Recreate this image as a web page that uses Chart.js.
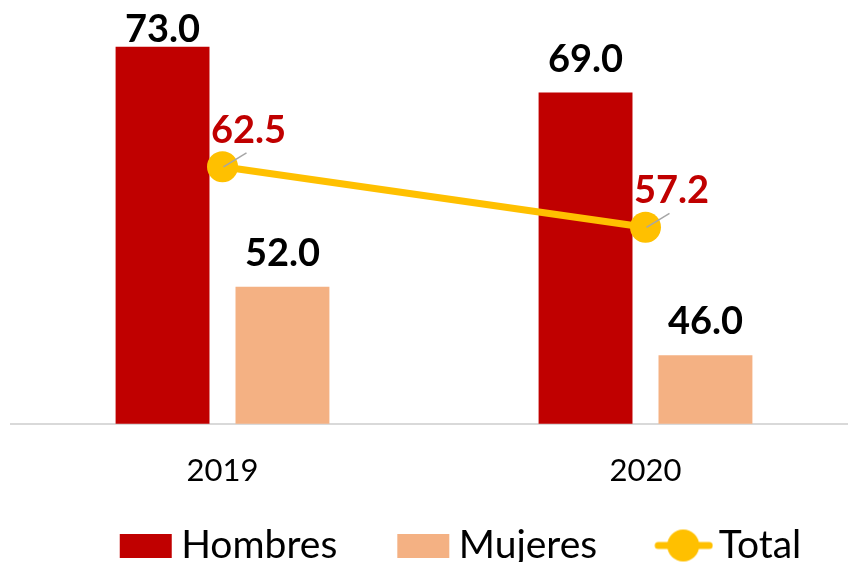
<!DOCTYPE html>
<html>
<head>
<meta charset="utf-8">
<script src="https://cdn.jsdelivr.net/npm/chart.js@4.4.1/dist/chart.umd.min.js"></script>
<style>
  html, body { margin: 0; padding: 0; background: #fff; overflow: hidden; }
  canvas { display: block; }
</style>
</head>
<body>
<canvas id="genderChart" width="858" height="562"></canvas>
<script>
var years = ["2019", "2020"];
var hombres = [73.0, 69.0];
var mujeres = [52.0, 46.0];
var total = [62.5, 57.2];

var FONT = "Lato, 'Liberation Sans', sans-serif";
var KEY_W = 95; // legend box slot, the blank left part is the gap between items

function keyBox(color) {
  var c = document.createElement("canvas");
  c.width = KEY_W + 28;
  c.height = 24;
  var g = c.getContext("2d");
  g.fillStyle = color;
  g.fillRect(KEY_W + 24 - 52, 0, 52, 24);
  return c;
}

function keyLine(color) {
  var c = document.createElement("canvas");
  c.width = KEY_W + 28;
  c.height = 34;
  var g = c.getContext("2d");
  var right = KEY_W + 28;
  g.strokeStyle = color;
  g.lineWidth = 7;
  g.lineCap = "round";
  g.beginPath();
  g.moveTo(right - 55, 17);
  g.lineTo(right - 4, 17);
  g.stroke();
  g.fillStyle = color;
  g.beginPath();
  g.arc(right - 30, 17, 16, 0, Math.PI * 2);
  g.fill();
  return c;
}

var keys = [keyBox("#C00000"), keyBox("#F4B183"), keyLine("#FFC000")];

var valueLabels = {
  id: "valueLabels",
  afterDatasetsDraw: function(chart) {
    var ctx = chart.ctx;
    ctx.save();
    ctx.textAlign = "center";
    ctx.textBaseline = "alphabetic";
    ctx.font = "bold 38px " + FONT;
    chart.data.datasets.forEach(function(ds, i) {
      var meta = chart.getDatasetMeta(i);
      meta.data.forEach(function(el, j) {
        var txt = ds.data[j].toFixed(1);
        if (ds.type === "line") {
          ctx.strokeStyle = "#A6A6A6";
          ctx.lineWidth = 1.5;
          ctx.beginPath();
          ctx.moveTo(el.x + 1, el.y);
          ctx.lineTo(el.x + 24, el.y - 14);
          ctx.stroke();
          ctx.fillStyle = "#C00000";
          ctx.fillText(txt, el.x + 26, el.y - 24);
        } else {
          ctx.fillStyle = "#000";
          ctx.fillText(txt, el.x, Math.max(el.y - 21, 42));
        }
      });
    });
    ctx.restore();
  }
};

var ctx = document.getElementById("genderChart").getContext("2d");

new Chart(ctx, {
  data: {
    labels: years,
    datasets: [
      {
        type: "bar",
        label: "Hombres",
        data: hombres,
        backgroundColor: "#C00000",
        categoryPercentage: 0.567,
        barPercentage: 0.783,
        order: 2
      },
      {
        type: "bar",
        label: "Mujeres",
        data: mujeres,
        backgroundColor: "#F4B183",
        categoryPercentage: 0.567,
        barPercentage: 0.783,
        order: 2
      },
      {
        type: "line",
        label: "Total",
        data: total,
        borderColor: "#FFC000",
        backgroundColor: "#FFC000",
        borderWidth: 7,
        pointRadius: 15.5,
        pointHoverRadius: 15.5,
        pointBorderWidth: 0,
        fill: false,
        order: 1
      }
    ]
  },
  options: {
    responsive: false,
    animation: false,
    layout: {
      autoPadding: false,
      padding: { left: 11, right: 1, top: 0, bottom: -13 }
    },
    scales: {
      x: {
        grid: { display: false, drawTicks: false },
        border: { display: true, color: "#D9D9D9", width: 2 },
        ticks: {
          padding: 29,
          color: "#000",
          font: { family: FONT, size: 31 }
        }
      },
      y: {
        display: false,
        min: 40,
        max: 77.1
      }
    },
    plugins: {
      tooltip: { enabled: false },
      legend: {
        position: "bottom",
        labels: {
          usePointStyle: true,
          pointStyleWidth: KEY_W,
          boxHeight: 34,
          padding: 7,
          color: "#000",
          font: { family: FONT, size: 39 },
          generateLabels: function(chart) {
            return chart.data.datasets.map(function(ds, i) {
              return {
                text: ds.label,
                pointStyle: keys[i],
                fillStyle: ds.backgroundColor,
                strokeStyle: ds.backgroundColor,
                lineWidth: 0,
                hidden: false,
                datasetIndex: i
              };
            });
          }
        }
      }
    }
  },
  plugins: [valueLabels]
});
</script>
</body>
</html>
